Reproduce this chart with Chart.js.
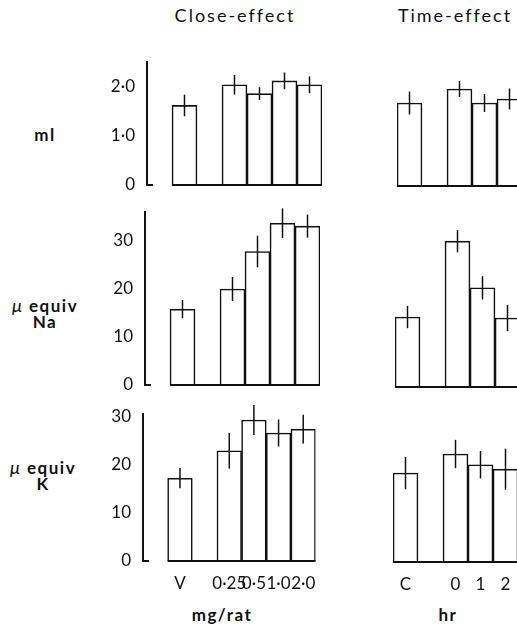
<!DOCTYPE html>
<html>
<head>
<meta charset="utf-8">
<script src="https://cdn.jsdelivr.net/npm/chart.js@4.4.1/dist/chart.umd.min.js"></script>
<style>
html, body { margin: 0; padding: 0; width: 517px; height: 635px; overflow: hidden; background: #fff; }
#page { position: relative; width: 517px; height: 635px; font-family: Lato, 'DejaVu Sans', sans-serif; color: #111; }
canvas { position: absolute; }
.lbl { position: absolute; transform: translate(-50%, -50%); white-space: nowrap; text-align: center; }
.title { font-size: 18px; letter-spacing: 2px; }
.side { font-size: 17px; font-weight: bold; line-height: 16px; letter-spacing: 1.5px; }
.side i { font-weight: normal; font-size: 18px; }
</style>
</head>
<body>
<div id="page">
  <div class="lbl title" style="left:235px; top:15px;">Close-effect</div>
  <div class="lbl title" style="left:455px; top:15px;">Time-effect</div>
  <div class="lbl side" style="left:45px; top:135px;">ml</div>
  <div class="lbl side" style="left:45px; top:313px;"><i>μ</i> equiv<br>Na</div>
  <div class="lbl side" style="left:43px; top:475px;"><i>μ</i> equiv<br>K</div>
  <div class="lbl side" style="left:222px; top:615px;">mg/rat</div>
  <div class="lbl side" style="left:448px; top:615px;">hr</div>
</div>
<script>
// slots: blank ones keep the gaps between bars
const doseLabels = ['', 'V', '', '0·25', '0·5', '1·0', '2·0'];
const timeLabels = ['C', '', '0', '1', '2'];

const doseMl = [null, 1.62, null, 2.04, 1.86, 2.12, 2.04];
const doseMlErr = [null, 0.22, null, 0.20, 0.13, 0.17, 0.17];
const doseNa = [null, 15.8, null, 20.0, 27.8, 33.7, 33.1];
const doseNaErr = [null, 1.9, null, 2.5, 3.3, 3.1, 2.4];
const doseK = [null, 17.2, null, 22.9, 29.3, 26.6, 27.4];
const doseKErr = [null, 2.1, null, 3.7, 3.1, 2.8, 3.0];

const timeMl = [1.66, null, 1.94, 1.66, 1.74];
const timeMlErr = [0.23, null, 0.16, 0.18, 0.21];
const timeNa = [14.4, null, 30.0, 20.4, 14.2];
const timeNaErr = [2.3, null, 2.3, 2.4, 2.7];
const timeK = [18.2, null, 22.1, 19.9, 19.0];
const timeKErr = [3.3, null, 2.9, 2.8, 4.2];

const mlTicks = [0, 1, 2];
const mlTickLabels = ['0', '1·0', '2·0'];
const ionTicks = [0, 10, 20, 30];
const ionTickLabels = ['0', '10', '20', '30'];

Chart.defaults.font.family = "Lato, 'DejaVu Sans', sans-serif";
Chart.defaults.color = '#111';

const errorBars = {
    id: 'errorBars',
    afterDatasetsDraw(chart) {
        const ctx = chart.ctx;
        const ys = chart.scales.y;
        const ds = chart.data.datasets[0];
        const meta = chart.getDatasetMeta(0);
        const area = chart.chartArea;
        const y0 = ys.getPixelForValue(0);
        ctx.save();
        ctx.strokeStyle = '#111';
        // baseline under the bars
        const fb = meta.data[ds.data.findIndex(v => v !== null)];
        ctx.lineWidth = 2;
        ctx.beginPath();
        ctx.moveTo(fb.x - fb.width / 2, y0);
        ctx.lineTo(area.right, y0);
        ctx.stroke();
        if (chart.options.scales.y.display) {
            ctx.beginPath();
            ctx.moveTo(area.left, y0);
            ctx.lineTo(area.left + 6, y0);
            ctx.stroke();
        }
        ctx.lineWidth = 1.5;
        ds.data.forEach((v, i) => {
            if (v === null) return;
            const bar = meta.data[i];
            ctx.beginPath();
            ctx.moveTo(bar.x, ys.getPixelForValue(v + ds.errors[i]));
            ctx.lineTo(bar.x, ys.getPixelForValue(v - ds.errors[i]));
            ctx.stroke();
        });
        ctx.restore();
    }
};

function panel(box, labels, values, errors, opts) {
    const ML = 60, MR = 10, MT = 20, MB = 40;
    const cv = document.createElement('canvas');
    cv.width = box.x1 - box.x0 + ML + MR;
    cv.height = box.y1 - box.y0 + MT + MB;
    cv.style.left = (box.x0 - ML) + 'px';
    cv.style.top = (box.y0 - MT) + 'px';
    document.getElementById('page').appendChild(cv);

    return new Chart(cv, {
        type: 'bar',
        data: {
            labels: labels,
            datasets: [{
                data: values,
                errors: errors,
                backgroundColor: '#fff',
                borderColor: '#111',
                borderWidth: 1.6,
                barPercentage: 1,
                categoryPercentage: 1
            }]
        },
        options: {
            responsive: false,
            animation: false,
            devicePixelRatio: 1,
            layout: { padding: { left: 0, right: MR, top: MT, bottom: 0 } },
            plugins: { legend: { display: false }, tooltip: { enabled: false } },
            scales: {
                x: {
                    display: opts.xTicks,
                    grid: { display: false, drawTicks: false },
                    border: { display: false },
                    ticks: { autoSkip: false, maxRotation: 0, padding: 12, font: { size: 17 } },
                    afterFit: s => { s.height = MB; }
                },
                y: {
                    display: opts.axis,
                    min: 0,
                    max: opts.max,
                    grid: { display: false, drawTicks: false },
                    border: { display: true, color: '#111', width: 2 },
                    ticks: {
                        padding: 12,
                        font: { size: 17 },
                        callback: v => opts.tickLabels[opts.ticks.indexOf(v)]
                    },
                    afterBuildTicks: s => { s.ticks = opts.ticks.map(v => ({ value: v })); },
                    afterFit: s => { s.width = ML; }
                }
            }
        },
        plugins: [errorBars]
    });
}

const mlOpts = { max: 2.5, ticks: mlTicks, tickLabels: mlTickLabels };
const naOpts = { max: 36, ticks: ionTicks, tickLabels: ionTickLabels };
const kOpts = { max: 30.5, ticks: ionTicks, tickLabels: ionTickLabels };

panel({ x0: 147, x1: 322, y0: 60, y1: 185 }, doseLabels, doseMl, doseMlErr, { ...mlOpts, axis: true, xTicks: false });
panel({ x0: 145, x1: 320, y0: 210, y1: 385 }, doseLabels, doseNa, doseNaErr, { ...naOpts, axis: true, xTicks: false });
panel({ x0: 143, x1: 318, y0: 412, y1: 561 }, doseLabels, doseK, doseKErr, { ...kOpts, axis: true, xTicks: true });

panel({ x0: 397, x1: 522, y0: 61, y1: 186 }, timeLabels, timeMl, timeMlErr, { ...mlOpts, axis: false, xTicks: false });
panel({ x0: 395, x1: 520, y0: 212, y1: 387 }, timeLabels, timeNa, timeNaErr, { ...naOpts, axis: false, xTicks: false });
panel({ x0: 393, x1: 518, y0: 413, y1: 562 }, timeLabels, timeK, timeKErr, { ...kOpts, axis: false, xTicks: true });
</script>
</body>
</html>
